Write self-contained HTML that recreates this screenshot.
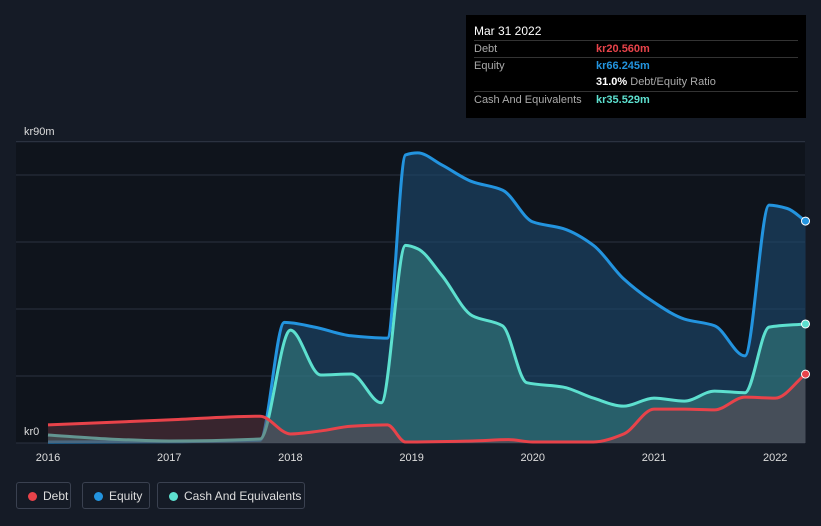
<!DOCTYPE html>
<html><head><meta charset="utf-8"><style>
body{margin:0;background:#151b26;font-family:"Liberation Sans",sans-serif;}
#wrap{position:relative;width:821px;height:526px;background:#151b26;overflow:hidden}
.tt{position:absolute;left:466px;top:15px;width:340px;height:103px;background:#000;color:#fff;font-size:11px}
.row{position:absolute;left:8px;width:324px;border-top:1px solid #333;height:17px;line-height:17px}
.lbl{color:#aaa;position:absolute;left:0}
.val{position:absolute;left:122px;font-weight:bold}
.leg{position:absolute;top:482px;height:27px;border:1px solid #3a4150;border-radius:3px;color:#ddd;font-size:12px;line-height:27px;white-space:nowrap;box-sizing:border-box;padding-left:26px}
.dot{position:absolute;left:11px;top:9px;width:9px;height:9px;border-radius:50%}
</style></head><body>
<div id="wrap">
<svg id="svg" width="821" height="526" style="position:absolute;left:0;top:0"></svg>
<div class="tt">
<div style="position:absolute;left:8px;top:9px;font-size:12px">Mar 31 2022</div>
<div class="row" style="top:25px"><span class="lbl">Debt</span><span class="val" style="color:#e8434a">kr20.560m</span></div>
<div class="row" style="top:42px"><span class="lbl">Equity</span><span class="val" style="color:#2394df">kr66.245m</span></div>
<div class="row" style="top:59px;border-top:none"><span class="val" style="color:#fff">31.0% <span style="color:#aaa;font-weight:normal">Debt/Equity Ratio</span></span></div>
<div class="row" style="top:76px"><span class="lbl">Cash And Equivalents</span><span class="val" style="color:#5de0cf">kr35.529m</span></div>
</div>
<div class="leg" style="left:16px;width:55px"><span class="dot" style="background:#e8434a"></span>Debt</div>
<div class="leg" style="left:82px;width:68px"><span class="dot" style="background:#2394df"></span>Equity</div>
<div class="leg" style="left:157px;width:148px"><span class="dot" style="background:#5de0cf"></span>Cash And Equivalents</div>
</div>
<script>
const xTicks=[2016,2017,2018,2019,2020,2021,2022];
const equityT=[2016,2017,2017.75,2017.95,2018.2,2018.5,2018.8,2018.95,2019.05,2019.25,2019.5,2019.75,2020,2020.25,2020.5,2020.75,2021,2021.25,2021.5,2021.75,2021.95,2022.1,2022.25];
const equityV=[0.3,0.4,0.8,36,34.6,32,31.3,86,86.6,83,78,75.5,66,64,59,49,42,37,35,26,71,70,66.245];
const cashT=[2016,2016.5,2017,2017.75,2018,2018.25,2018.5,2018.75,2018.95,2019.05,2019.25,2019.5,2019.75,2019.95,2020.25,2020.5,2020.75,2021,2021.25,2021.5,2021.75,2021.95,2022.25];
const cashV=[2.4,1.2,0.6,1.2,33.7,20.3,20.6,12,59,58,50,38,35,18,16.7,13.4,11,13.4,12.5,15.5,15,34.6,35.529];
const debtT=[2016,2017,2017.75,2018,2018.25,2018.5,2018.8,2018.95,2019.5,2019.8,2020,2020.5,2020.75,2021,2021.25,2021.5,2021.75,2022,2022.25];
const debtV=[5.4,6.9,8,2.7,3.6,5,5.4,0.3,0.6,1,0.3,0.3,2.7,10.1,10.1,9.9,13.7,13.4,20.56];
const X=t=>48+(t-2016)*121.2, Y=v=>443-v*3.35;
const svg=document.getElementById('svg'),NS='http://www.w3.org/2000/svg';
function mk(tag,a,name){const e=document.createElementNS(NS,tag);for(const k in a)e.setAttribute(k,a[k]);


svg.appendChild(e);return e;}
mk('rect',{x:16,y:143,width:789,height:300,fill:'#0f141c'},'plot-bg');
[0,20,40,60,80,90].forEach(v=>mk('line',{x1:16,x2:805,y1:Y(v),y2:Y(v),stroke:'#2b3240','stroke-width':1},'gridline'));
function path(T,V){const n=T.length,x=T.map(X),y=V.map(Y);const d=[],m=[];
for(let i=0;i<n-1;i++)d.push((y[i+1]-y[i])/(x[i+1]-x[i]));
for(let i=0;i<n;i++){if(i==0)m.push(d[0]);else if(i==n-1)m.push(d[n-2]);else m.push(d[i-1]*d[i]<=0?0:2/(1/d[i-1]+1/d[i]));}
let s='M'+x[0]+','+y[0];for(let i=0;i<n-1;i++){const h=(x[i+1]-x[i])/3;
s+=`C${x[i]+h},${y[i]+m[i]*h} ${x[i+1]-h},${y[i+1]-m[i+1]*h} ${x[i+1]},${y[i+1]}`;}
return {d:s,p:x.map((v,i)=>[v,y[i]])};}
function series(T,V,col,fill,op,name){const r=path(T,V);
mk('path',{d:r.d+`L${r.p[r.p.length-1][0]},443L${r.p[0][0]},443Z`,fill:fill,'fill-opacity':op},name+'-area');
mk('path',{d:r.d,fill:'none',stroke:col,'stroke-width':3},name+'-line');
const l=r.p[r.p.length-1];mk('circle',{cx:l[0],cy:l[1],r:4,fill:col,stroke:'#fff','stroke-width':1},name+'-end-dot');}
series(equityT,equityV,'#2394df','#1c4a70',0.6,'equity');
series(cashT,cashV,'#5de0cf','#3a8a85',0.5,'cash');
series(debtT,debtV,'#e8434a','#6a3a45',0.45,'debt');
xTicks.forEach(t=>{const e=mk('text',{x:X(t),y:461,fill:'#ddd','font-size':11,'text-anchor':'middle'},'x-tick-label');e.textContent=t;});
let a=mk('text',{x:24,y:135,fill:'#ddd','font-size':11},'y-max-label');a.textContent='kr90m';
a=mk('text',{x:24,y:435,fill:'#ddd','font-size':11},'y-zero-label');a.textContent='kr0';
</script>
</body></html>
